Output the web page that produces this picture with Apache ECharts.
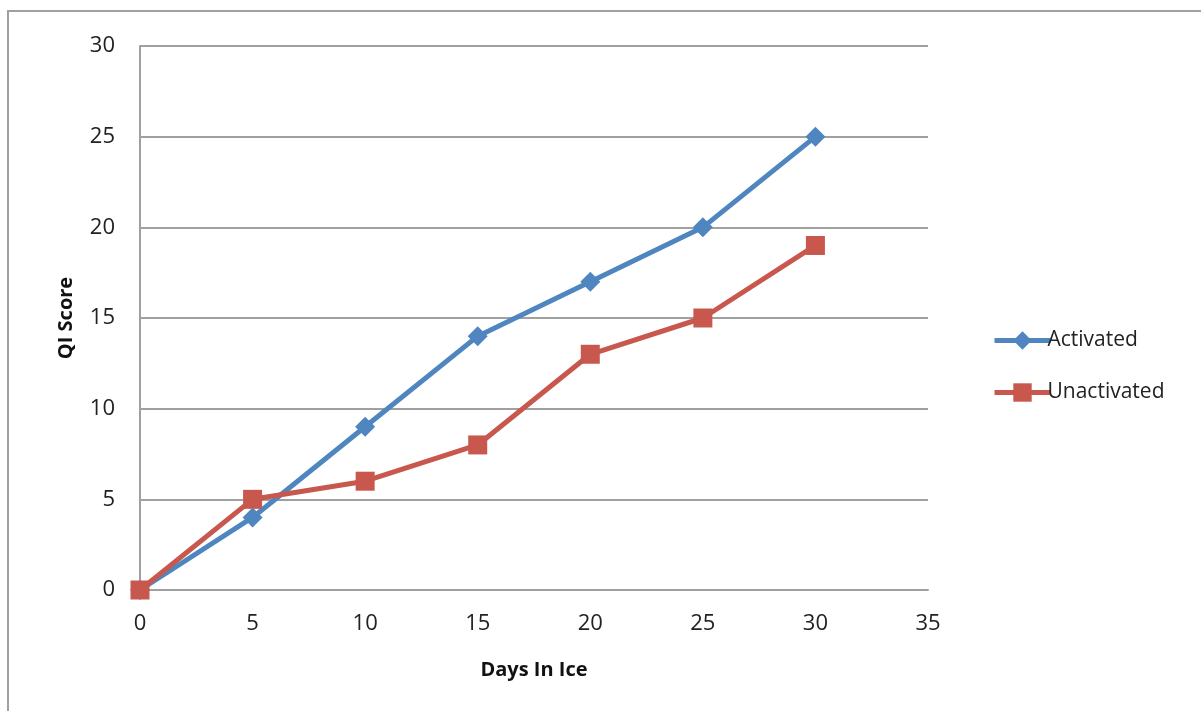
<!DOCTYPE html>
<html><head><meta charset="utf-8">
<script src="https://cdn.jsdelivr.net/npm/echarts@6/dist/echarts.min.js"></script>
<style>html,body{margin:0;padding:0;background:#fff}#c{width:1201px;height:711px}</style>
</head><body><div id="c"></div>
<script>
const days = [0, 5, 10, 15, 20, 25, 30];
const activated = [0, 4, 9, 14, 17, 20, 25];
const unactivated = [0, 5, 6, 8, 13, 15, 19];
const xTicks = {min: 0, max: 35, interval: 5};
const yTicks = {min: 0, max: 30, interval: 5};
const FONT = 'Open Sans';
const chart = echarts.init(document.getElementById('c'), null, {renderer: 'canvas'});
chart.setOption({
  animation: false,
  backgroundColor: '#fff',
  textStyle: {fontFamily: FONT},
  graphic: [{type: 'rect', shape: {x: 8, y: 11, width: 1300, height: 800}, style: {fill: 'none', stroke: '#a0a0a0', lineWidth: 2}, silent: true}],
  grid: {left: 140, right: 273, top: 46, bottom: 121, containLabel: false},
  legend: {
    orient: 'vertical', left: 987, top: 325, itemGap: 31, itemWidth: 56, itemHeight: 23,
    lineStyle: {width: 5},
    textStyle: {fontFamily: FONT, fontSize: 21, color: '#222', padding: [0,0,0,-8]},
    data: ['Activated', 'Unactivated']
  },
  xAxis: {
    type: 'value', min: xTicks.min, max: xTicks.max, interval: xTicks.interval,
    name: 'Days In Ice', nameLocation: 'middle', nameGap: 70,
    nameTextStyle: {fontFamily: FONT, fontSize: 20, fontWeight: 'bold', color: '#111'},
    axisLine: {show: true, lineStyle: {color: '#a0a0a0', width: 2}},
    axisTick: {show: false},
    axisLabel: {fontFamily: FONT, fontSize: 22, color: '#222', margin: 23},
    splitLine: {show: false}
  },
  yAxis: {
    type: 'value', min: yTicks.min, max: yTicks.max, interval: yTicks.interval,
    name: 'QI Score', nameLocation: 'middle', nameGap: 64, nameRotate: 90,
    nameTextStyle: {fontFamily: FONT, fontSize: 20, fontWeight: 'bold', color: '#111'},
    axisLine: {show: true, lineStyle: {color: '#a0a0a0', width: 2}},
    axisTick: {show: false},
    axisLabel: {fontFamily: FONT, fontSize: 22, color: '#222', margin: 25, padding: [8, 0, 0, 0]},
    splitLine: {show: true, lineStyle: {color: '#a0a0a0', width: 2}}
  },
  series: [
    {name: 'Activated', type: 'line', data: days.map((d, i) => [d, activated[i]]),
     symbol: 'diamond', symbolSize: 20, color: '#4f86c0',
     lineStyle: {width: 5, color: '#4f86c0'}, itemStyle: {color: '#4f86c0'}, z: 2},
    {name: 'Unactivated', type: 'line', data: days.map((d, i) => [d, unactivated[i]]),
     symbol: 'rect', symbolSize: 19, color: '#c8584e',
     lineStyle: {width: 5, color: '#c8584e'}, itemStyle: {color: '#c8584e'}, z: 3}
  ]
});
</script></body></html>
